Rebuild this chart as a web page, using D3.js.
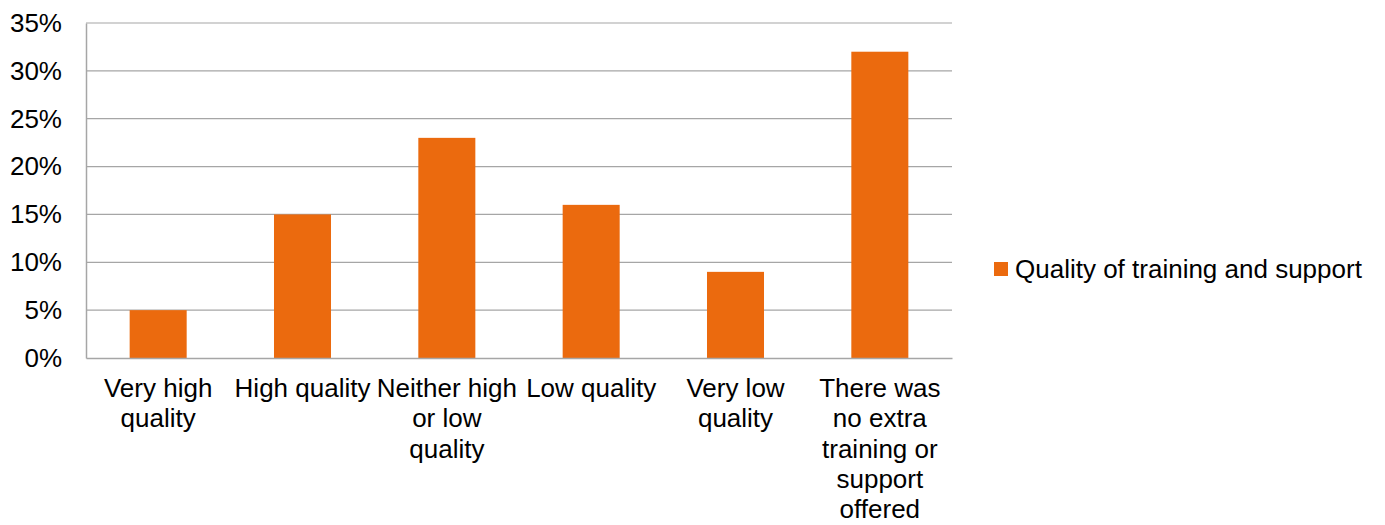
<!DOCTYPE html>
<html>
<head>
<meta charset="utf-8">
<script src="https://cdn.jsdelivr.net/npm/d3@7"></script>
<style>
  html, body { margin: 0; padding: 0; background: #fff; }
  svg { display: block; font-family: "Liberation Sans", Arial, sans-serif; }
</style>
</head>
<body>
<svg id="chart" width="1385" height="525"></svg>
<script>
// Survey answers: rating of the training and support received
const categories = [
  "Very high\nquality",
  "High quality",
  "Neither high\nor low\nquality",
  "Low quality",
  "Very low\nquality",
  "There was\nno extra\ntraining or\nsupport\noffered"
];
const values = [5, 15, 23, 16, 9, 32];
const yTicks = [0, 5, 10, 15, 20, 25, 30, 35];
const seriesName = "Quality of training and support";

const svg = d3.select("#chart");
const margin = { left: 86, right: 433, top: 23, bottom: 167 };
const W = 1385, H = 525;
const plotW = W - margin.left - margin.right;
const plotH = H - margin.top - margin.bottom;
const barColor = "#EB6A0E";
const gridColor = "#A6A6A6";
const fontSize = 26;

const x = d3.scaleBand().domain(categories).range([margin.left, margin.left + plotW]).padding(0);
const y = d3.scaleLinear().domain([0, 35]).range([margin.top + plotH, margin.top]);
const barW = x.bandwidth() * 0.395;

// Horizontal gridlines
svg.append("g")
  .selectAll("line")
  .data(yTicks.filter(t => t > 0))
  .join("line")
  .attr("x1", margin.left).attr("x2", margin.left + plotW)
  .attr("y1", d => y(d)).attr("y2", d => y(d))
  .attr("stroke", gridColor).attr("stroke-width", 1.2);

// Bars
svg.append("g")
  .selectAll("rect")
  .data(values)
  .join("rect")
  .attr("x", (d, i) => x(categories[i]) + (x.bandwidth() - barW) / 2)
  .attr("width", barW)
  .attr("y", d => y(d))
  .attr("height", d => y(0) - y(d))
  .attr("fill", barColor);

// Y axis
const yAxis = d3.axisLeft(y).tickValues(yTicks).tickSize(0).tickPadding(24).tickFormat(d => d + "%");
const gy = svg.append("g").attr("transform", `translate(${margin.left},0)`).call(yAxis);
gy.select(".domain").attr("stroke", gridColor).attr("stroke-width", 1.5);
gy.selectAll("text").attr("font-size", fontSize).attr("fill", "#000")
  .attr("font-family", "'Liberation Sans', Arial, sans-serif");

// X axis
const xAxis = d3.axisBottom(x).tickSize(0).tickFormat("");
const gx = svg.append("g").attr("transform", `translate(0,${y(0)})`).call(xAxis);
gx.select(".domain").attr("stroke", gridColor).attr("stroke-width", 1.5);

// Multi-line category labels
const labels = svg.append("g")
  .selectAll("text")
  .data(categories)
  .join("text")
  .attr("text-anchor", "middle")
  .attr("font-size", fontSize)
  .attr("fill", "#000")
  .attr("transform", d => `translate(${x(d) + x.bandwidth() / 2},${y(0) + 39})`);
labels.selectAll("tspan")
  .data(d => d.split("\n"))
  .join("tspan")
  .attr("x", 0)
  .attr("y", (d, i) => i * 30.3)
  .text(d => d);

// Legend
const legend = svg.append("g").attr("transform", "translate(994,262)");
legend.append("rect").attr("width", 14).attr("height", 14).attr("fill", barColor);
legend.append("text")
  .attr("x", 21).attr("y", 16)
  .attr("font-size", fontSize).attr("fill", "#000")
  .text(seriesName);
</script>
</body>
</html>
